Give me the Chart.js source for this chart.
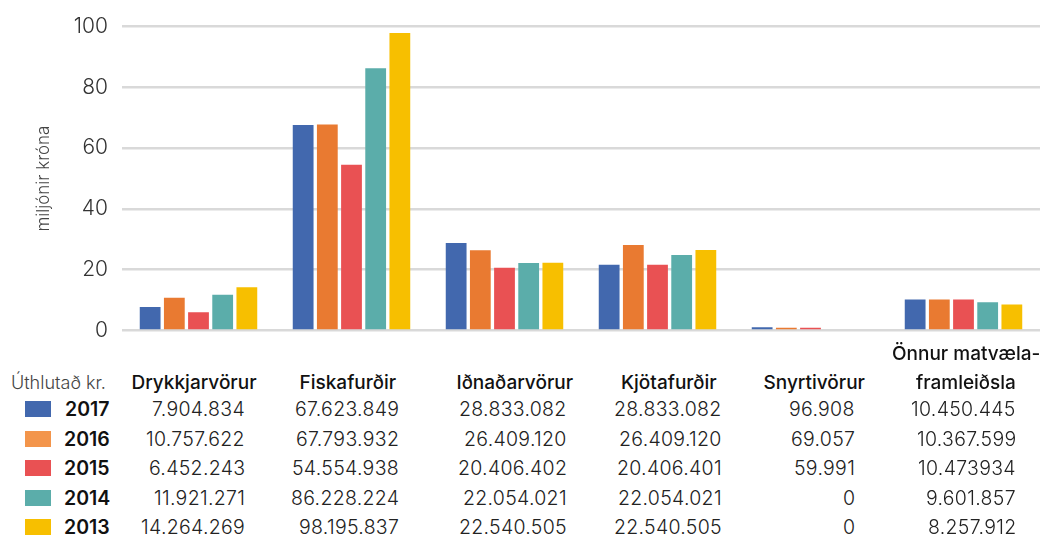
<!DOCTYPE html>
<html>
<head>
<meta charset="utf-8">
<script src="https://cdn.jsdelivr.net/npm/chart.js@4.4.1/dist/chart.umd.min.js"></script>
<style>
    body { margin: 0; background: #fff; font-family: Inter, "Noto Sans", sans-serif; }
    #wrap { position: relative; width: 1063px; height: 536px; overflow: hidden; }
    #chartBox { position: absolute; left: 0; top: 0; width: 1063px; height: 357px; }
    .t { position: absolute; white-space: nowrap; transform: translateY(-50%); color: #222; font-size: 19.5px; font-weight: 300; letter-spacing: 0.3px; }
    .head { font-weight: 500; color: #111; letter-spacing: 0; font-size: 19px; }
    .year { font-weight: 600; color: #111; letter-spacing: 0; }
    .sw { position: absolute; width: 26px; height: 16px; }
</style>
</head>
<body>
<div id="wrap">
    <div id="chartBox"><canvas id="myChart"></canvas></div>
</div>
<script>
// Gögn (milljónir króna, lesin af myndinni)
let categories = ["Drykkjarvörur", "Fiskafurðir", "Iðnaðarvörur", "Kjötafurðir", "Snyrtivörur", ["Önnur matvæla-", "framleiðsla"]];
let years = ["2017", "2016", "2015", "2014", "2013"];
let bars2017 = [7.7, 67.6, 28.8, 21.6, 1.0, 10.2];
let bars2016 = [10.76, 67.8, 26.4, 28.1, 0.9, 10.2];
let bars2015 = [6.0, 54.55, 20.6, 21.6, 0.9, 10.2];
let bars2014 = [11.7, 86.3, 22.2, 24.8, 0, 9.3];
let bars2013 = [14.2, 97.9, 22.3, 26.5, 0, 8.5];
let yTicks = [0, 20, 40, 60, 80, 100];

// Taflan undir myndinni
let table2017 = ["7.904.834", "67.623.849", "28.833.082", "28.833.082", "96.908", "10.450.445"];
let table2016 = ["10.757.622", "67.793.932", "26.409.120", "26.409.120", "69.057", "10.367.599"];
let table2015 = ["6.452.243", "54.554.938", "20.406.402", "20.406.401", "59.991", "10.473934"];
let table2014 = ["11.921.271", "86.228.224", "22.054.021", "22.054.021", "0", "9.601.857"];
let table2013 = ["14.264.269", "98.195.837", "22.540.505", "22.540.505", "0", "8.257.912"];

let barColors = ["#4268ae", "#e97a31", "#e95153", "#5badaa", "#f7bf00"];
let swatchColors = ["#4268ae", "#f3954b", "#e95153", "#5badaa", "#f7bf00"];

let allBars = [bars2017, bars2016, bars2015, bars2014, bars2013];
let allRows = [table2017, table2016, table2015, table2014, table2013];

// Staðsetning töflunnar
let headCenters = [194, 348, 515, 669, 814, 966];
let numRights = [245, 399, 567, 722, 855, 1016];
let rowY = [409, 439, 468, 498, 527];

let wrap = document.getElementById("wrap");

function addText(txt, cls, css) {
    let d = document.createElement("div");
    d.className = "t " + cls;
    d.textContent = txt;
    Object.assign(d.style, css);
    wrap.appendChild(d);
    return d;
}

// Haus
addText("Úthlutað kr.", "", { left: "11px", top: "382px", color: "#444", fontSize: "18px", letterSpacing: "0" });
categories.forEach((c, i) => {
    let lines = Array.isArray(c) ? c : [c];
    lines.forEach((line, j) => {
        let y = lines.length > 1 ? 353 + j * 29 : 382;
        let d = addText(line, "head", { top: y + "px" });
        d.style.left = headCenters[i] - d.offsetWidth / 2 + "px";
    });
});

// Raðir
years.forEach((yr, r) => {
    let sw = document.createElement("div");
    sw.className = "sw";
    sw.style.left = "25px";
    sw.style.top = rowY[r] - 8 + "px";
    sw.style.background = swatchColors[r];
    wrap.appendChild(sw);
    let yd = addText(yr, "year", { top: rowY[r] + "px" });
    yd.style.left = 110 - yd.offsetWidth + "px";
    allRows[r].forEach((v, i) => {
        let d = addText(v, "", { top: rowY[r] + "px" });
        d.style.left = numRights[i] - d.offsetWidth + "px";
    });
});

let ctx = document.getElementById("myChart");
new Chart(ctx, {
    type: "bar",
    data: {
        labels: categories,
        datasets: years.map((yr, i) => ({
            label: yr,
            data: allBars[i],
            backgroundColor: barColors[i],
            categoryPercentage: 0.79,
            barPercentage: 0.86,
        })),
    },
    options: {
        responsive: true,
        maintainAspectRatio: false,
        animation: false,
        layout: { padding: { top: 24, right: 23, bottom: 15, left: 0 } },
        plugins: { legend: { display: false }, tooltip: { enabled: false } },
        scales: {
            x: { display: false },
            y: {
                min: 0,
                max: 100,
                afterBuildTicks: (s) => { s.ticks = yTicks.map((v) => ({ value: v })); },
                afterFit: (s) => { s.width = 122; },
                border: { display: false },
                grid: { color: "#d9d9d9", lineWidth: 2.5, drawTicks: false },
                ticks: { color: "#333", padding: 14, font: { family: "Inter", size: 21, weight: 300 } },
                title: {
                    display: true,
                    text: "miljónir króna",
                    color: "#444",
                    padding: { top: 34, bottom: 0 },
                    font: { family: "Inter", size: 17, weight: 300 },
                },
            },
        },
    },
});
</script>
</body>
</html>
